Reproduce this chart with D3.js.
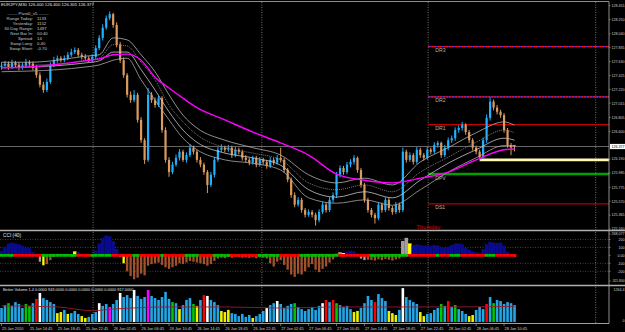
<!DOCTYPE html>
<html><head><meta charset="utf-8">
<script src="https://cdn.jsdelivr.net/npm/d3@7"></script>
<style>html,body{margin:0;padding:0;background:#000;overflow:hidden}svg{display:block}</style>
</head><body>
<svg id="c" width="625" height="332"></svg>
<script>
// ---------- DATA ----------
const open=[127.55,127.57,127.60,127.55,127.61,127.58,127.54,127.57,127.62,127.60,
127.54,127.43,127.29,127.21,127.33,127.58,127.65,127.68,127.65,127.68,
127.73,127.77,127.80,127.73,127.70,127.68,127.65,127.70,127.83,127.98,
128.13,128.27,128.33,128.17,127.88,127.65,127.43,127.14,127.06,127.14,
126.77,126.47,126.18,127.14,127.06,126.99,127.09,126.62,126.18,126.00,
126.11,126.21,126.30,126.18,126.25,126.36,126.30,126.18,126.11,126.00,
125.81,125.96,126.18,126.33,126.36,126.33,126.36,126.25,126.33,126.30,
126.21,126.18,126.14,126.21,126.11,126.18,126.15,126.09,126.18,126.14,
126.21,126.18,126.03,125.89,125.66,125.52,125.59,125.44,125.37,125.41,
125.37,125.29,125.41,125.52,125.44,125.59,125.66,125.96,126.06,126.00,
126.11,126.15,126.21,126.03,125.81,125.59,125.44,125.37,125.32,125.52,
125.44,125.59,125.47,125.41,125.52,125.44,126.30,126.18,126.25,126.15,
126.33,126.25,126.21,126.33,126.30,126.40,126.43,126.25,126.36,126.47,
126.50,126.62,126.65,126.70,126.59,126.47,126.36,126.30,126.22,126.47,
126.80,127.04,126.95,126.89,126.84,126.62,126.40,126.40];
const high=[127.62,127.64,127.63,127.66,127.64,127.62,127.61,127.67,127.65,127.63,
127.58,127.47,127.33,127.38,127.62,127.70,127.72,127.71,127.72,127.77,
127.82,127.84,127.83,127.76,127.74,127.71,127.74,127.87,128.02,128.18,
128.31,128.37,128.35,128.21,127.92,127.69,127.46,127.19,127.21,127.17,
126.81,126.50,127.24,127.18,127.10,127.13,127.12,126.66,126.22,126.15,
126.26,126.34,126.33,126.29,126.41,126.39,126.33,126.22,126.14,126.03,
126.00,126.22,126.37,126.41,126.39,126.40,126.39,126.37,126.36,126.33,
126.25,126.21,126.24,126.24,126.22,126.21,126.18,126.22,126.21,126.25,
126.36,126.21,126.06,125.92,125.70,125.63,125.62,125.47,125.45,125.44,
125.40,125.45,125.56,125.55,125.63,125.70,126.00,126.10,126.09,126.15,
126.19,126.25,126.23,126.06,125.84,125.62,125.47,125.40,125.56,125.55,
125.63,125.62,125.50,125.56,125.55,126.36,126.33,126.29,126.28,126.37,
126.36,126.28,126.37,126.36,126.44,126.46,126.45,126.40,126.51,126.54,
126.66,126.69,126.74,126.72,126.62,126.50,126.39,126.33,126.51,126.85,
127.10,127.07,126.99,126.92,126.87,126.65,126.43,126.40];
const low=[127.51,127.53,127.51,127.52,127.54,127.50,127.51,127.54,127.56,127.50,
127.39,127.25,127.17,127.18,127.30,127.55,127.61,127.62,127.62,127.65,
127.70,127.74,127.70,127.66,127.64,127.62,127.62,127.67,127.80,127.94,
128.10,128.24,128.13,127.84,127.61,127.39,127.10,127.02,127.03,126.73,
126.43,126.12,126.15,127.02,126.95,126.96,126.58,126.14,125.93,125.97,
126.08,126.17,126.15,126.14,126.22,126.26,126.14,126.07,125.96,125.69,
125.78,125.92,126.15,126.29,126.29,126.30,126.21,126.22,126.26,126.17,
126.14,126.10,126.11,126.07,126.08,126.11,126.05,126.06,126.10,126.11,
126.14,125.99,125.85,125.62,125.48,125.49,125.40,125.33,125.34,125.33,
125.21,125.26,125.38,125.40,125.41,125.55,125.62,125.92,125.96,125.97,
126.07,126.11,125.99,125.77,125.55,125.40,125.33,125.24,125.29,125.40,
125.41,125.43,125.37,125.38,125.40,125.41,126.14,126.15,126.11,126.12,
126.21,126.17,126.18,126.26,126.27,126.36,126.21,126.22,126.32,126.43,
126.46,126.58,126.61,126.55,126.43,126.32,126.26,126.19,126.20,126.43,
126.76,126.91,126.85,126.80,126.58,126.36,126.25,126.305];
const close=[127.57,127.60,127.55,127.61,127.58,127.54,127.57,127.62,127.60,127.54,
127.43,127.29,127.21,127.33,127.58,127.65,127.68,127.65,127.68,127.73,
127.77,127.80,127.73,127.70,127.68,127.65,127.70,127.83,127.98,128.13,
128.27,128.33,128.17,127.88,127.65,127.43,127.14,127.06,127.14,126.77,
126.47,126.18,127.14,127.06,126.99,127.09,126.62,126.18,126.00,126.11,
126.21,126.30,126.18,126.25,126.36,126.30,126.18,126.11,126.00,125.81,
125.96,126.18,126.33,126.36,126.33,126.36,126.25,126.33,126.30,126.21,
126.18,126.14,126.21,126.11,126.18,126.15,126.09,126.18,126.14,126.21,
126.18,126.03,125.89,125.66,125.52,125.59,125.44,125.37,125.41,125.37,
125.29,125.41,125.52,125.44,125.59,125.66,125.96,126.06,126.00,126.11,
126.15,126.21,126.03,125.81,125.59,125.44,125.37,125.32,125.52,125.44,
125.59,125.47,125.41,125.52,125.44,126.30,126.18,126.25,126.15,126.33,
126.25,126.21,126.33,126.30,126.40,126.43,126.25,126.36,126.47,126.50,
126.62,126.65,126.70,126.59,126.47,126.36,126.30,126.22,126.47,126.80,
127.04,126.95,126.89,126.84,126.62,126.40,126.36,126.377];

const volume=[520,630,700,600,740,670,520,670,600,700,
860,1080,890,820,740,670,330,370,450,300,
330,410,300,220,150,190,300,370,700,600,
670,560,670,820,1080,930,1000,890,1190,970,
860,930,1190,970,890,820,930,1120,860,740,
700,480,630,820,890,670,600,820,1000,970,
820,740,630,410,370,450,330,300,220,300,
190,260,150,220,300,410,520,630,700,780,
670,520,600,670,700,560,480,410,480,560,
450,600,700,820,740,820,700,630,560,600,
480,370,410,520,700,970,820,740,1040,890,
780,410,330,260,450,1260,930,820,740,670,
370,220,300,330,450,520,670,600,780,560,
630,480,410,300,220,260,450,560,480,670,
930,700,820,780,670,740,700,630];
const volColors=("bbgbbbbggb"+"rwbbbbyyby"+"bbbyybbbwb"+"bmbbwbbbwb"+"bbmbbbbbbg"+
"bybbbgybrw"+"bbbyyybbbb"+"bbybbbwbbw"+"bbbbgbbbbb"+"bbwrbrgbbb"+
"byybbbbrbb"+"byyybwbbbb"+"yybbbbgbrb"+"gbbbyybbbr"+"bgbbbbbb").split("");
const volMaIdx=[0,16,26,32,48,64,80,96,112,128,147];
const volMa=[600,560,420,480,560,560,520,560,560,560,580];

const cci=[60,110,150,160,150,140,120,100,90,40,
10,-80,-125,-110,-60,-20,-10,10,-5,0,
10,50,40,5,-5,0,-10,60,150,220,
250,240,180,80,-20,-100,-200,-260,-300,-280,
-230,-250,-130,-110,-100,-90,-120,-150,-170,-150,
-130,-100,-110,-90,-70,-80,-90,-100,-110,-130,
-110,-70,-40,-30,-35,-20,-30,-15,-20,-30,
-25,-30,-20,-35,-25,-30,-40,-100,-140,-80,
-60,-120,-180,-240,-270,-230,-240,-200,-150,-110,
-180,-210,-170,-140,-90,-50,20,40,30,50,
60,50,20,-40,-60,-55,-60,-65,-50,-60,
-45,-55,-65,-50,-40,180,220,150,130,140,
130,120,125,120,130,125,100,95,110,130,
150,150,140,100,70,50,40,30,80,140,
170,160,155,160,120,40,-5,-20];
const cciGrey=[11,20,34,96,97,103,104,115,116];
const cciYellow=[12,21,35,98,117];
const zeroColors=("ggggrrrrrr"+"rrgggggggg"+"ggrrrrgggg"+"ggrrrrrrgg"+"rrrrrrgrrr"+
"rrrggggrrr"+"rgggggrrrr"+"rrrrgggggg"+"rrrrrrgggg"+"gggggggrrr"+
"rrrrrrgggg"+"gggggggrrr"+"rrrrrgrrrg"+"ggrrrrrrrg"+"ggrrrrrr").split("");

const maIdx=[0,8,16,24,28,32,36,40,44,48,52,56,64,72,80,88,96,104,112,120,128,136,144,147];
const maUpper=[127.62,127.62,127.65,127.71,127.73,127.98,127.95,127.73,127.48,127.14,126.84,126.65,126.47,126.36,126.25,125.96,125.84,125.91,125.81,126.15,126.36,126.58,126.74,126.69];
const maMid1=[127.58,127.58,127.59,127.65,127.68,127.88,127.86,127.62,127.36,126.99,126.74,126.55,126.36,126.28,126.18,125.84,125.74,125.81,125.71,126.00,126.22,126.44,126.62,126.58];
const maMid2=[127.54,127.55,127.57,127.61,127.64,127.77,127.77,127.51,127.21,126.89,126.62,126.44,126.28,126.21,126.10,125.74,125.63,125.71,125.62,125.88,126.13,126.33,126.50,126.47];
const maLower=[127.48,127.49,127.51,127.55,127.58,127.65,127.68,127.36,127.06,126.77,126.50,126.33,126.18,126.13,126.03,125.62,125.54,125.59,125.51,125.74,126.00,126.21,126.39,126.39];
const maSlow=[127.54,127.55,127.59,127.64,127.67,127.73,127.74,127.65,127.40,127.24,127.09,126.95,126.77,126.59,126.43,126.25,125.97,125.88,125.84,125.91,126.00,126.18,126.33,126.34];

const dateLabels=["25 Jan 2010","25 Jan 14:45","25 Jan 18:45","25 Jan 22:45","26 Jan 02:45","26 Jan 06:45","26 Jan 10:45","26 Jan 14:45","26 Jan 18:45","26 Jan 22:45","27 Jan 02:45","27 Jan 06:45","27 Jan 10:45","27 Jan 14:45","27 Jan 18:45","27 Jan 22:45","28 Jan 02:45","28 Jan 06:45","28 Jan 10:45"];
const dateLabelIdx=[0,8,16,24,32,40,48,56,64,72,80,88,96,104,112,120,128,136,144];
const dayStarts=[26.25,74.6,122.25,170.25];
const priceTicks=[125.160,125.365,125.570,125.775,125.985,126.190,126.600,126.805,127.015,127.220,127.425,127.630,127.835,128.040,128.250,128.455];
const cciTicks=[268.077,200,100,0,-100,-200,-321.8];
const cciTickLabels=["268.077","200","100","0.00","-100","-200","-321.800"];
const volTicks=[1264.4,0];
const volTickLabels=["1264.4","0"];
const pivotNames=["DR3","DR2","DR1","DPV","DS1"];
const pivotValues=[127.85,127.11,126.70,125.97,125.53];
const dayLowValue=126.18, dayLowIdx=137;
const lastPrice=126.377;
const titleText="EURJPY,M30  126.400 126.400 126.305 126.377";
const infoHeader="------- Pivot0_v5 -------";
const infoLabels=["Range Today:","Yesterday:","30 Day Range:","Next Bar In:","Spread:","Swap Long:","Swap Short:"];
const infoValues=["1133","1152","1497","00:40","14","0.40","-0.70"];

// ---------- DRAW ----------
const W=625,H=332, AX=609, FONT="'Liberation Sans', Arial, sans-serif";
const svg=d3.select("#c");
svg.append("rect").attr("width",W).attr("height",H).attr("fill","#000");
const n=close.length;
const x=d3.scaleLinear().domain([0,n-1]).range([1.5,1.5+(n-1)*3.49]);
const yP=d3.scaleLinear().domain([125.160,128.450]).range([229,6]);
const yC=d3.scaleLinear().domain([-321.8,268.077]).range([281,234]);
const yV=d3.scaleLinear().domain([0,1264.4]).range([322,288]);

const defs=svg.append("defs");
defs.append("clipPath").attr("id","cm").append("rect").attr("x",0).attr("y",2).attr("width",AX).attr("height",228);
defs.append("clipPath").attr("id","cc").append("rect").attr("x",0).attr("y",232).attr("width",AX).attr("height",52);
defs.append("clipPath").attr("id","cv").append("rect").attr("x",0).attr("y",287).attr("width",AX).attr("height",36);

// day separators
svg.append("g").selectAll("line").data(dayStarts).join("line")
  .attr("x1",d=>x(d)).attr("x2",d=>x(d)).attr("y1",2).attr("y2",323)
  .attr("stroke","#8a8a8a").attr("stroke-width",0.8).attr("stroke-dasharray","1,1.5");

// ----- main panel -----
const gm=svg.append("g").attr("clip-path","url(#cm)");
const x0=x(dayStarts[2]);
pivotValues.forEach((v,k)=>{
  const nm=pivotNames[k];
  if(nm==="DR3"||nm==="DR2"){
    gm.append("line").attr("x1",x0).attr("x2",AX).attr("y1",yP(v)).attr("y2",yP(v)).attr("stroke","#3030ff").attr("stroke-width",1.2);
    gm.append("line").attr("x1",x0).attr("x2",AX).attr("y1",yP(v)).attr("y2",yP(v)).attr("stroke","#ff1010").attr("stroke-width",1.2).attr("stroke-dasharray","2,1");
  } else if(nm==="DPV"){
    gm.append("line").attr("x1",x0).attr("x2",AX).attr("y1",yP(v)).attr("y2",yP(v)).attr("stroke","#00a000").attr("stroke-width",2.5);
  } else {
    gm.append("line").attr("x1",x0).attr("x2",AX).attr("y1",yP(v)).attr("y2",yP(v)).attr("stroke","#e00000").attr("stroke-width",1);
  }
});
gm.append("line").attr("x1",0).attr("x2",AX).attr("y1",yP(lastPrice)).attr("y2",yP(lastPrice)).attr("stroke","#808080").attr("stroke-width",0.8);
gm.append("line").attr("x1",x(dayLowIdx)).attr("x2",AX).attr("y1",yP(dayLowValue)).attr("y2",yP(dayLowValue)).attr("stroke","#fff8b0").attr("stroke-width",2.6);

// candles
const bars=gm.append("g");
for(let i=0;i<n;i++){
  const up=close[i]>=open[i];
  const col=up?"#1fb0ff":"#dc9a5c";
  bars.append("line").attr("x1",x(i)).attr("x2",x(i)).attr("y1",yP(high[i])).attr("y2",yP(low[i])).attr("stroke",col).attr("stroke-width",1);
  const t=yP(Math.max(open[i],close[i])), b=yP(Math.min(open[i],close[i]));
  bars.append("rect").attr("x",x(i)-1.1).attr("width",2.2).attr("y",t).attr("height",Math.max(0.8,b-t)).attr("fill",col);
}
// moving averages
const line=d3.line().x(d=>x(d[0])).y(d=>yP(d[1])).curve(d3.curveMonotoneX);
const mk=arr=>maIdx.map((d,k)=>[d,arr[k]]);
gm.append("path").attr("d",line(mk(maUpper))).attr("fill","none").attr("stroke","#b4b4b4").attr("stroke-width",0.8);
gm.append("path").attr("d",line(mk(maMid1))).attr("fill","none").attr("stroke","#9a9a9a").attr("stroke-width",0.8).attr("stroke-dasharray","1,1");
gm.append("path").attr("d",line(mk(maMid2))).attr("fill","none").attr("stroke","#c8c8c8").attr("stroke-width",0.8);
gm.append("path").attr("d",line(mk(maLower))).attr("fill","none").attr("stroke","#a8a8a8").attr("stroke-width",0.8);
gm.append("path").attr("d",line(mk(maSlow))).attr("fill","none").attr("stroke","#ff00ff").attr("stroke-width",1.4);

pivotValues.forEach((v,k)=>{
  gm.append("text").attr("x",x0+7).attr("y",yP(v)+5.5).attr("fill","#b0b0b0").attr("font-family",FONT).attr("font-size",5.2).text(pivotNames[k]);
});
svg.append("text").attr("x",x0-12).attr("y",228.6).attr("fill","#d00000").attr("font-family",FONT).attr("font-size",5.8).text("Thursday");

// title + info
svg.append("text").attr("x",1).attr("y",5.5).attr("fill","#e0e0e0").attr("font-family",FONT).attr("font-size",4.3).text(titleText);
svg.append("text").attr("x",28).attr("y",15).attr("text-anchor","middle").attr("fill","#c8c8c8").attr("font-family",FONT).attr("font-size",4.3).text(infoHeader);
infoLabels.forEach((t,k)=>{
  const yy=20+k*5;
  svg.append("text").attr("x",33).attr("y",yy).attr("text-anchor","end").attr("fill","#c8c8c8").attr("font-family",FONT).attr("font-size",4.3).text(t);
  svg.append("text").attr("x",37).attr("y",yy).attr("fill","#c8c8c8").attr("font-family",FONT).attr("font-size",4.3).text(infoValues[k]);
});

// ----- CCI panel -----
const gc=svg.append("g").attr("clip-path","url(#cc)");
gc.selectAll("line.g").data([200,100,-100,-200]).join("line")
  .attr("x1",0).attr("x2",AX).attr("y1",d=>yC(d)).attr("y2",d=>yC(d))
  .attr("stroke","#707070").attr("stroke-width",0.6).attr("stroke-dasharray","1,1.5");
for(let i=0;i<n;i++){
  const v=cci[i];
  let col=v>=0?"#0a0a8c":"#a0522d";
  if(cciGrey.includes(i)) col="#a0a0a0";
  if(cciYellow.includes(i)) col="#ffff00";
  const w=v>=0?3.6:2.3;
  const t=yC(Math.max(v,0)), b=yC(Math.min(v,0));
  gc.append("rect").attr("x",x(i)-w/2).attr("width",w).attr("y",t).attr("height",Math.max(0.5,b-t)).attr("fill",col);
}
for(let i=0;i<n;i++){
  gc.append("rect").attr("x",x(i)-1.75).attr("width",3.6).attr("y",yC(0)-1.4).attr("height",2.8)
    .attr("fill",zeroColors[i]==="g"?"#00c000":"#ff0000");
}
svg.append("text").attr("x",3).attr("y",237).attr("fill","#e0e0e0").attr("font-family",FONT).attr("font-size",4.8).text("CCI (40)");

// ----- Volume panel -----
const gv=svg.append("g").attr("clip-path","url(#cv)");
const vc={b:"#22a6e6",g:"#00c800",y:"#f0f000",r:"#ff0000",w:"#ffffff",m:"#ff00ff"};
for(let i=0;i<n;i++){
  gv.append("rect").attr("x",x(i)-1.3).attr("width",2.6).attr("y",yV(volume[i])).attr("height",yV(0)-yV(volume[i])).attr("fill",vc[volColors[i]]);
}
const vline=d3.line().x(d=>x(d[0])).y(d=>yV(d[1])).curve(d3.curveMonotoneX);
gv.append("path").attr("d",vline(volMaIdx.map((d,k)=>[d,volMa[k]]))).attr("fill","none").attr("stroke","#9a1a30").attr("stroke-width",0.9);
svg.append("text").attr("x",3).attr("y",291).attr("fill","#e0e0e0").attr("font-family",FONT).attr("font-size",3.9)
  .text("Better Volume 1.4 0.0000 943.0000 0.0000 0.0000 0.0000 0.0000 917.0000");

// ----- frames -----
const fr=svg.append("g").attr("stroke","#b0b0b0").attr("fill","none");
fr.append("line").attr("x1",0).attr("x2",AX).attr("y1",1.5).attr("y2",1.5).attr("stroke-width",0.8);
fr.append("line").attr("x1",0).attr("x2",W).attr("y1",230.5).attr("y2",230.5).attr("stroke-width",1.6);
fr.append("line").attr("x1",0).attr("x2",W).attr("y1",285.5).attr("y2",285.5).attr("stroke-width",1.6);
fr.append("line").attr("x1",0).attr("x2",AX).attr("y1",323.5).attr("y2",323.5).attr("stroke-width",0.9);
fr.append("line").attr("x1",AX).attr("x2",AX).attr("y1",1.5).attr("y2",323.5).attr("stroke-width",0.8);

// ----- right axis: labels right-aligned inside the 16px strip -----
const RX=624.6;
const ax=svg.append("g").attr("font-family",FONT).attr("font-size",3.6).attr("fill","#d0d0d0").attr("text-anchor","end");
priceTicks.forEach(v=>{
  ax.append("line").attr("x1",AX).attr("x2",AX+1.5).attr("y1",yP(v)).attr("y2",yP(v)).attr("stroke","#b0b0b0").attr("stroke-width",0.6);
  ax.append("text").attr("x",RX).attr("y",yP(v)+1.3).text(v.toFixed(3));
});
ax.append("rect").attr("x",AX+1).attr("y",yP(lastPrice)-2.6).attr("width",W-AX-1).attr("height",5.2).attr("fill","#ffffff");
ax.append("text").attr("x",RX).attr("y",yP(lastPrice)+1.3).attr("fill","#000").text(lastPrice.toFixed(3));
cciTicks.forEach((v,k)=>{
  ax.append("line").attr("x1",AX).attr("x2",AX+1.5).attr("y1",yC(v)).attr("y2",yC(v)).attr("stroke","#b0b0b0").attr("stroke-width",0.6);
  ax.append("text").attr("x",RX).attr("y",yC(v)+1.3).attr("font-size",cciTickLabels[k].length>7?3.3:3.6).text(cciTickLabels[k]);
});
volTicks.forEach((v,k)=>{
  ax.append("text").attr("x",RX).attr("y",yV(v)+(k===0?2.5:0)).text(volTickLabels[k]);
});

// ----- bottom time axis -----
const bx=svg.append("g").attr("font-family",FONT).attr("font-size",3.9).attr("fill","#d0d0d0");
dateLabelIdx.forEach((d,k)=>{
  bx.append("line").attr("x1",x(d)).attr("x2",x(d)).attr("y1",323.5).attr("y2",326).attr("stroke","#b0b0b0").attr("stroke-width",0.6);
  bx.append("text").attr("x",x(d)+0.5).attr("y",329.5).text(dateLabels[k]);
});
</script></body></html>
